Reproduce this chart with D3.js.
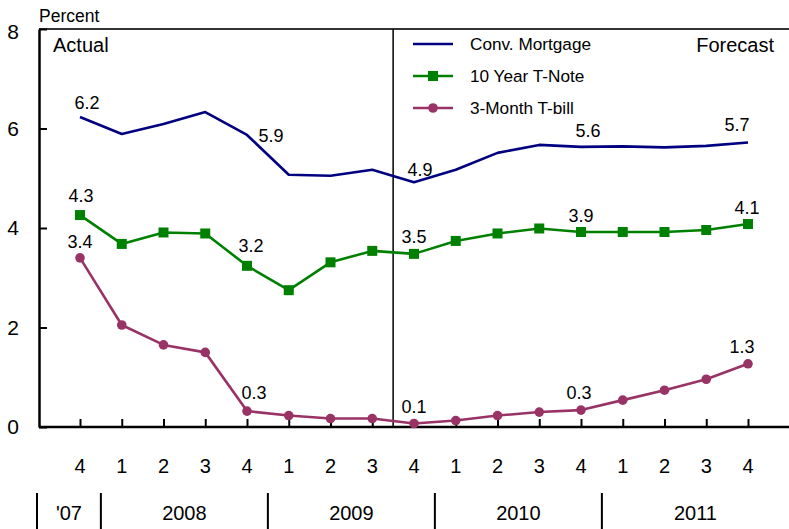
<!DOCTYPE html>
<html>
<head>
<meta charset="utf-8">
<script src="https://cdn.jsdelivr.net/npm/d3@7"></script>
<style>
  body { margin: 0; background: #fff; }
  text { font-family: 'Liberation Sans', Arial, sans-serif; fill: #000; }
</style>
</head>
<body>
<svg id="chart" width="789" height="529"></svg>
<script>
// quarters 2007Q4 .. 2011Q4
var quarters = ['4', '1', '2', '3', '4', '1', '2', '3', '4', '1', '2', '3', '4', '1', '2', '3', '4'];
var years = ["'07", '2008', '2009', '2010', '2011'];
var yearStart = [0, 1, 5, 9, 13];   // index of first quarter in each year
var yTicks = [0, 2, 4, 6, 8];

var mortgage = [6.23, 5.89, 6.09, 6.33, 5.87, 5.07, 5.05, 5.17, 4.92, 5.17, 5.51, 5.67, 5.63, 5.64, 5.62, 5.65, 5.72];
var tnote = [4.26, 3.68, 3.91, 3.89, 3.24, 2.75, 3.31, 3.54, 3.48, 3.74, 3.89, 3.99, 3.92, 3.92, 3.92, 3.96, 4.08];
var tbill = [3.40, 2.05, 1.65, 1.50, 0.32, 0.23, 0.17, 0.17, 0.07, 0.13, 0.23, 0.30, 0.34, 0.54, 0.74, 0.96, 1.27];
var labelIdx = [0, 4, 8, 12, 16];
var forecastStart = 7.5; // between 2009Q3 and 2009Q4

var series = [
    { name: 'Conv. Mortgage', values: mortgage, color: '#000080', marker: 'none',
      offs: [[7, -8], [24, 7], [6, -6], [7, -10], [-11, -11]] },
    { name: '10 Year T-Note', values: tnote, color: '#008000', marker: 'square',
      offs: [[1, -13], [4, -14], [0, -11], [0, -10], [-1, -10]] },
    { name: '3-Month T-bill', values: tbill, color: '#993366', marker: 'circle',
      offs: [[0, -10], [7, -12], [0, -11], [-2, -11], [-6, -11]] }
];

var svg = d3.select('#chart');
var plotLeft = 39, plotRight = 789, plotTop = 29, plotBottom = 427;

var x = d3.scaleLinear().domain([0, quarters.length - 1]).range([80, 748]);
var y = d3.scaleLinear().domain([0, 8]).range([plotBottom, plotTop]);

// frame: top line, left and bottom axes
svg.append('line')
    .attr('x1', plotLeft).attr('x2', plotRight).attr('y1', plotTop).attr('y2', plotTop)
    .attr('stroke', '#333').attr('stroke-width', 2);

var yAxis = d3.axisRight(y).tickValues(yTicks).tickSize(8).tickSizeOuter(0).tickFormat('');
svg.append('g')
    .attr('transform', 'translate(' + plotLeft + ',0)')
    .call(yAxis)
    .call(g => g.select('.domain').attr('stroke-width', 2.5))
    .call(g => g.selectAll('.tick line').attr('stroke-width', 2));

svg.selectAll('.ylab')
    .data(yTicks)
    .enter()
    .append('text')
    .attr('class', 'ylab')
    .attr('x', 13)
    .attr('y', d => y(d) + (d == 8 ? 3 : 0))
    .attr('dy', '0.35em')
    .attr('text-anchor', 'middle')
    .style('font-size', '21px')
    .text(d => d);

var xAxis = d3.axisTop(x).tickValues(d3.range(quarters.length)).tickSize(8).tickFormat('');
svg.append('g')
    .attr('transform', 'translate(0,' + plotBottom + ')')
    .call(xAxis)
    .call(g => g.select('.domain').remove())
    .call(g => g.selectAll('.tick line').attr('stroke-width', 2));

svg.append('line')
    .attr('x1', plotLeft).attr('x2', plotRight).attr('y1', plotBottom).attr('y2', plotBottom)
    .attr('stroke', '#000').attr('stroke-width', 2.5);

// forecast divider
svg.append('line')
    .attr('x1', x(forecastStart)).attr('x2', x(forecastStart))
    .attr('y1', plotTop).attr('y2', plotBottom)
    .attr('stroke', '#000').attr('stroke-width', 1.5);

svg.append('text').attr('x', 39).attr('y', 22).style('font-size', '17.5px').text('Percent');
svg.append('text').attr('x', 53).attr('y', 52).style('font-size', '20px').text('Actual');
svg.append('text').attr('x', 774).attr('y', 52).attr('text-anchor', 'end')
    .style('font-size', '20px').text('Forecast');

// quarter labels
svg.selectAll('.qlab')
    .data(quarters)
    .enter()
    .append('text')
    .attr('class', 'qlab')
    .attr('x', (d, i) => x(i))
    .attr('y', 473)
    .attr('text-anchor', 'middle')
    .style('font-size', '20px')
    .text(d => d);

// year separators and labels
var bounds = yearStart.map((s, i) => i == 0 ? plotLeft - 2 : x(s - 0.5));
bounds.push(plotRight);
svg.selectAll('.ysep')
    .data(yearStart)
    .enter()
    .append('line')
    .attr('x1', (d, i) => bounds[i]).attr('x2', (d, i) => bounds[i])
    .attr('y1', 493).attr('y2', 529)
    .attr('stroke', '#000').attr('stroke-width', 2);

svg.selectAll('.yrlab')
    .data(years)
    .enter()
    .append('text')
    .attr('x', (d, i) => (bounds[i] + bounds[i + 1]) / 2)
    .attr('y', 520)
    .attr('text-anchor', 'middle')
    .style('font-size', '20px')
    .text(d => d);

// series
var line = d3.line().x((d, i) => x(i)).y(d => y(d));

function drawMarker(g, s, cx, cy) {
    if (s.marker == 'square') {
        g.append('rect').attr('x', cx - 5).attr('y', cy - 5).attr('width', 10).attr('height', 10)
            .attr('fill', s.color);
    } else if (s.marker == 'circle') {
        g.append('circle').attr('cx', cx).attr('cy', cy).attr('r', 4.8).attr('fill', s.color);
    }
}

series.forEach(function (s) {
    var g = svg.append('g');
    g.append('path')
        .datum(s.values)
        .attr('d', line)
        .attr('fill', 'none')
        .attr('stroke', s.color)
        .attr('stroke-width', 2.6)
        .attr('stroke-linejoin', 'round');
    s.values.forEach((v, i) => drawMarker(g, s, x(i), y(v)));
    labelIdx.forEach(function (idx, k) {
        g.append('text')
            .attr('x', x(idx) + s.offs[k][0])
            .attr('y', y(s.values[idx]) + s.offs[k][1])
            .attr('text-anchor', 'middle')
            .style('font-size', '18px')
            .text(s.values[idx].toFixed(1));
    });
});

// legend
var legend = svg.append('g');
series.forEach(function (s, i) {
    var ly = 44 + i * 32;
    legend.append('line')
        .attr('x1', 413).attr('x2', 453).attr('y1', ly).attr('y2', ly)
        .attr('stroke', s.color).attr('stroke-width', 2.6);
    drawMarker(legend, s, 433, ly);
    legend.append('text')
        .attr('x', 470).attr('y', ly + 6)
        .style('font-size', '17.2px')
        .text(s.name);
});
</script>
</body>
</html>
